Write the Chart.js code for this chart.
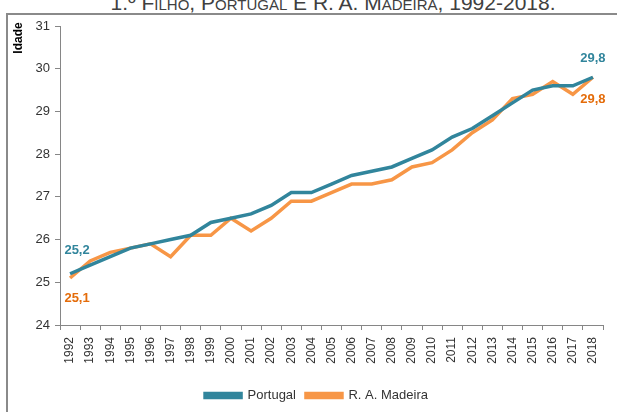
<!DOCTYPE html>
<html><head><meta charset="utf-8">
<script src="https://cdn.jsdelivr.net/npm/chart.js@4.4.0/dist/chart.umd.min.js"></script>
<style>
html,body{margin:0;padding:0;background:#fff;overflow:hidden;}
#wrap{position:relative;width:617px;height:412px;overflow:hidden;}
#frame{position:absolute;left:6px;top:13px;width:700px;height:500px;border:2px solid #8a8a8a;box-sizing:border-box;}
#title{position:absolute;left:0;top:-8px;width:666px;line-height:21px;text-align:center;font-family:"Liberation Sans",Arial,sans-serif;font-size:21px;font-variant:small-caps;color:#404040;white-space:nowrap;}
#c{position:absolute;left:0;top:0;}
</style></head>
<body><div id="wrap"><div id="frame"></div><div id="title">1.º Filho, Portugal E R. A. Madeira, 1992-2018.</div><canvas id="c" width="617" height="412"></canvas></div>
<script>
const years = ['1992','1993','1994','1995','1996','1997','1998','1999','2000','2001','2002','2003','2004','2005','2006','2007','2008','2009','2010','2011','2012','2013','2014','2015','2016','2017','2018'];
const portugal = [25.2,25.4,25.6,25.8,25.9,26.0,26.1,26.4,26.5,26.6,26.8,27.1,27.1,27.3,27.5,27.6,27.7,27.9,28.1,28.4,28.6,28.9,29.2,29.5,29.6,29.6,29.8];
const madeira  = [25.1,25.5,25.7,25.8,25.9,25.6,26.1,26.1,26.5,26.2,26.5,26.9,26.9,27.1,27.3,27.3,27.4,27.7,27.8,28.1,28.5,28.8,29.3,29.4,29.7,29.4,29.8];
const yTicks = [24,25,26,27,28,29,30,31];
const seriesNames = ['Portugal','R. A. Madeira'];

const FONT = '"Liberation Sans", Arial, sans-serif';
const TEAL = '#31859C', ORANGE = '#F79646';

const endLabels = {
  id: 'endLabels',
  afterDatasetsDraw(chart) {
    const ctx = chart.ctx;
    const specs = [
      {ds:0, idx:0, dx:7, dy:-23, color:TEAL},
      {ds:1, idx:0, dx:7, dy:20, color:'#E46C0A'},
      {ds:0, idx:years.length-1, dx:0, dy:-19, color:TEAL},
      {ds:1, idx:years.length-1, dx:0, dy:22, color:'#E46C0A'}
    ];
    ctx.save();
    ctx.font = 'bold 13px ' + FONT;
    ctx.textAlign = 'center';
    ctx.textBaseline = 'middle';
    specs.forEach(s => {
      const pt = chart.getDatasetMeta(s.ds).data[s.idx];
      const v = chart.data.datasets[s.ds].data[s.idx];
      ctx.fillStyle = s.color;
      ctx.fillText(v.toFixed(1).replace('.', ','), pt.x + s.dx, pt.y + s.dy);
    });
    // y axis title
    ctx.translate(18.5, 38);
    ctx.rotate(-Math.PI/2);
    ctx.fillStyle = '#000';
    ctx.font = 'bold 12px ' + FONT;
    ctx.fillText('Idade', 0, 0);
    ctx.restore();
  }
};

new Chart(document.getElementById('c'), {
  type: 'line',
  data: {
    labels: years,
    datasets: [
      {label: seriesNames[0], data: portugal, borderColor: TEAL, backgroundColor: TEAL, borderWidth: 3.5, pointRadius: 0, tension: 0},
      {label: seriesNames[1], data: madeira, borderColor: ORANGE, backgroundColor: ORANGE, borderWidth: 3.5, pointRadius: 0, tension: 0}
    ]
  },
  options: {
    responsive: false,
    animation: false,
    events: [],
    layout: {padding: {left: 30, right: 14, top: 26, bottom: 0}},
    plugins: {
      legend: {
        position: 'bottom',
        labels: {boxWidth: 36, boxHeight: 4, padding: 10, color: '#333', font: {family: FONT, size: 13}}
      },
      tooltip: {enabled: false}
    },
    scales: {
      x: {
        offset: true,
        grid: {offset: true, drawOnChartArea: false, drawTicks: true, tickLength: 5, color: '#868686'},
        border: {color: '#868686', width: 1},
        ticks: {autoSkip: false, maxRotation: 90, minRotation: 90, color: '#333', padding: 7, font: {family: FONT, size: 12}},
        afterFit: s => { s.height = 54; }
      },
      y: {
        min: 24, max: 31,
        afterBuildTicks: s => { s.ticks = yTicks.map(v => ({value: v})); },
        grid: {drawOnChartArea: false, drawTicks: true, tickLength: 5, color: '#868686'},
        border: {color: '#868686', width: 1},
        ticks: {color: '#333', padding: 5, font: {family: FONT, size: 13}},
        afterFit: s => { s.width = 30; }
      }
    }
  },
  plugins: [endLabels]
});
</script>
</body></html>
